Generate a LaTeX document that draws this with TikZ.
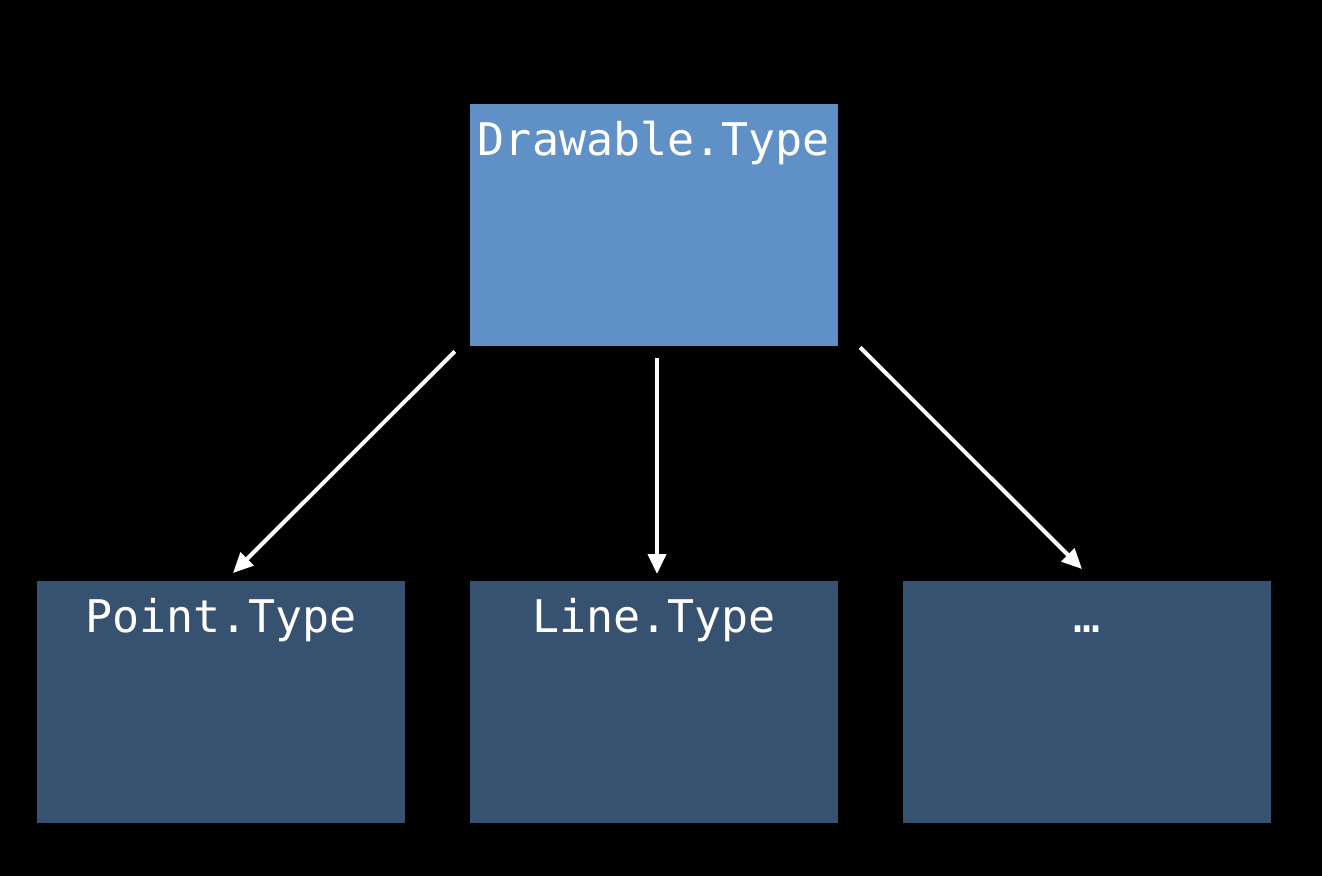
\documentclass[tikz,border=0pt]{standalone}
\usepackage{fontspec}
\newfontfamily\typefont{DejaVu Sans Mono}
\usetikzlibrary{arrows.meta}
\definecolor{protoblue}{RGB}{95,144,198}
\definecolor{typeblue}{RGB}{55,81,113}

\begin{document}
\begin{tikzpicture}[x=1pt, y=-1pt, >={Triangle[length=20pt, width=18pt]},
    box/.style = {fill, inner sep=0pt, anchor=north, text=white,
      text width=368pt, align=center, text height=51pt, text depth=191pt,
      font=\typefont\fontsize{45}{50}\selectfont},
    arrow/.style = {->, draw=white, fill=white, line width=4pt}]
    % Background
    \fill[black] (0,0) rectangle (1322,876);

    % Nodes
    \node[box, fill=protoblue] (drawable) at (654,104) {Drawable.Type};

    \node[box, fill=typeblue] (point) at (221,581) {Point.Type};
    \node[box, fill=typeblue] (line) at (654,581) {Line.Type};
    \node[box, fill=typeblue] (more) at (1087,581) {…};

    % Arrow ends
    \coordinate (s1) at ([shift={(-15,5)}]drawable.south west);
    \coordinate (s2) at ([shift={(3,12)}]drawable.south);
    \coordinate (s3) at ([shift={(22,1)}]drawable.south east);
    \coordinate (e1) at ([shift={(12,-8)}]point.north);
    \coordinate (e2) at ([shift={(3,-7)}]line.north);
    \coordinate (e3) at ([shift={(-5,-12)}]more.north);

    % Edges
    \draw[arrow] (s1) -- (e1);
    \draw[arrow] (s2) -- (e2);
    \draw[arrow] (s3) -- (e3);

\end{tikzpicture}
\end{document}
